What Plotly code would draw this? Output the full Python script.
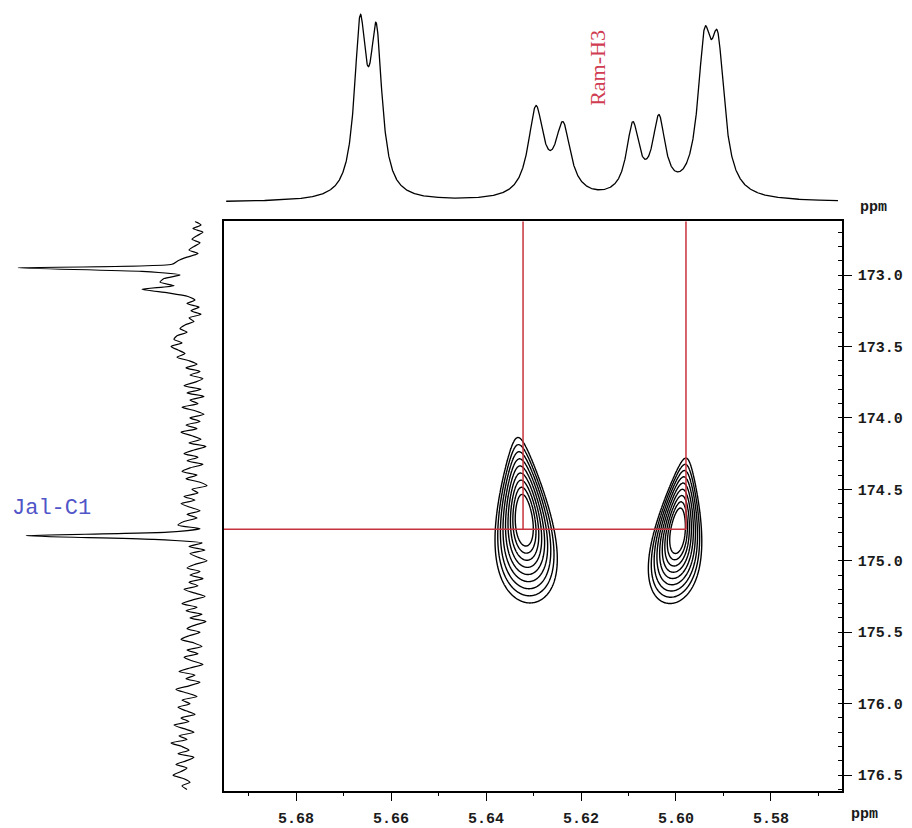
import numpy as np
import plotly.graph_objects as go

W, H = 912, 828

# ---- 1H projection: resolved lines (ppm), apparent heights, half-widths (ppm)
h_ppm = [5.6665, 5.6631, 5.6295, 5.6238, 5.6091, 5.6036, 5.5940, 5.5912]
h_height = [188, 180, 97, 81, 81, 88, 175, 171]
h_hwhm = [0.00147, 0.00147, 0.00195, 0.00195, 0.00162, 0.00162, 0.00172, 0.00172]

# ---- 13C projection: intensity sampled every 0.025 ppm starting at 172.625 ppm
c13_start = 172.625
c13_step = 0.025
c13_int = [
    -3, -9, -1, -11, -5, 0, -8, -2, 3, -6, 5, 14,
    20, 174, 50, 12, 28, 32, 18, 50, 24, 4,
    -3, 5, -7, 1, -9, 3, -2, 7, 12, 5, 15,
    18, 10, 21, 14, 7, 15, 3, -5, 6, -8, 2, -11, -3,
    8, -9, 5, -12, 2, -6, 10, -3, -12, 2,
    -8, 6, -5, 11, 0, -9, 3, -14, -2, 8,
    -6, 5, -11, 2, 10, -5, 6, -8, -15, 0,
    -6, 8, -3, 11, 2, -8, 5, -5, 8, 14,
    -8, 24,
    166, 40, -10, 3, -13, 2, -6, -15, -3, 5, -8, 2,
    -11, 3, -6, 8, -2, -13, 0, 10, -5, 6,
    -10, 2, -14, -3, 5, -8, 3, 11, -2, -10,
    5, -6, 8, 0, -11, 2, 13, -3, 6, -8,
    3, 16, 5, -5, 10, 2, 14, 6, -3, 11,
    3, 18, 8, -2, 13, 5, 21, 10, 3, 14,
    -2, 6, 16, 5, 11, 19, 8, 2, 10, 5,
]

# ---- HMBC cross peaks (1H ppm, 13C ppm, half extents, skew, intensity)
xp_h = [5.6320, 5.5996]
xp_c = [174.716, 174.79]
xp_h_half = [0.00589, 0.00497]
xp_c_half = [0.579, 0.509]
xp_tilt = [-0.00126, 0.00168]
xp_amp = [100, 100]

# ---- correlation markers
corr_h = [5.6322, 5.5979]
corr_c = 174.78

x_range = [5.69516, 5.56505]
y_range = [176.612, 172.6234]

# ---------------- 1H trace
hx = np.linspace(5.6947, 5.5659, 2500)
P = np.array(h_ppm)
Wd = np.array(h_hwhm)
M = 1.0 / (1.0 + ((P[:, None] - P[None, :]) / Wd[None, :]) ** 2)
amps = np.linalg.solve(M, np.array(h_height, dtype=float))
hy = (amps[None, :] / (1.0 + ((hx[:, None] - P[None, :]) / Wd[None, :]) ** 2)).sum(axis=1)

# ---------------- 13C trace
c13_int = np.array(c13_int, dtype=float)
c13_ppm = c13_start + c13_step * np.arange(len(c13_int))

# ---------------- 2D map
gx = np.linspace(5.652, 5.580, 420)
gy = np.linspace(173.8, 175.6, 420)
GX, GY = np.meshgrid(gx, gy)


def cross_peak(x0, y0, hxh, hyh, tilt, amp):
    s = (GY - y0) / hyh
    w = np.clip(1 + 0.5 * s, 0.15, None)
    t = (GX - (x0 + tilt * s)) / (hxh * w)
    r = np.sqrt(s ** 2 + t ** 2)
    return amp * np.clip(1 - r / 1.25, 0, None)


Z = np.zeros_like(GX)
for i in range(len(xp_h)):
    Z = np.maximum(Z, cross_peak(xp_h[i], xp_c[i], xp_h_half[i], xp_c_half[i], xp_tilt[i], xp_amp[i]))

fig = go.Figure()

fig.add_trace(go.Contour(
    x=gx, y=gy, z=Z,
    contours=dict(coloring="lines", start=20, end=75, size=6.875),
    colorscale=[[0, "black"], [1, "black"]],
    line=dict(width=1.4, smoothing=0.8),
    showscale=False, hoverinfo="skip",
    xaxis="x", yaxis="y",
))

red = "#c8323c"
for h in corr_h:
    fig.add_trace(go.Scatter(x=[h, h], y=[y_range[1], corr_c], mode="lines",
                             line=dict(color=red, width=1.5), xaxis="x", yaxis="y",
                             hoverinfo="skip", showlegend=False, cliponaxis=False))
fig.add_trace(go.Scatter(x=[x_range[0], corr_h[1]], y=[corr_c, corr_c], mode="lines",
                         line=dict(color=red, width=1.5), xaxis="x", yaxis="y",
                         hoverinfo="skip", showlegend=False, cliponaxis=False))

# top projection
fig.add_trace(go.Scatter(x=hx, y=hy, mode="lines", line=dict(color="black", width=1.3),
                         xaxis="x2", yaxis="y2", hoverinfo="skip", showlegend=False))

# left projection
fig.add_trace(go.Scatter(x=c13_int, y=c13_ppm, mode="lines",
                         line=dict(color="black", width=1.2, shape="spline", smoothing=0.6),
                         xaxis="x3", yaxis="y3", hoverinfo="skip", showlegend=False))

px = lambda v: v / W
py = lambda v: (H - v) / H

tickfont = dict(family="Liberation Mono, Courier New, monospace", size=15, color="#1a1a1a", weight="bold")

fig.update_layout(
    width=W, height=H,
    margin=dict(l=0, r=0, t=0, b=0),
    paper_bgcolor="white", plot_bgcolor="white",
    showlegend=False,
    xaxis=dict(
        domain=[px(224), px(842)], range=x_range, anchor="y",
        showgrid=False, zeroline=False,
        showline=True, mirror=True, linecolor="black", linewidth=1.5,
        ticks="outside", ticklen=8, tickwidth=1.2, tickcolor="black",
        tick0=5.58, dtick=0.02, tickformat=".2f", tickfont=tickfont,
        minor=dict(dtick=0.01, ticks="outside", ticklen=3, tickcolor="black"),
        ticklabelstandoff=4,
    ),
    yaxis=dict(
        domain=[py(794), py(222)], range=y_range, anchor="x", side="right",
        showgrid=False, zeroline=False,
        showline=True, mirror=True, linecolor="black", linewidth=1.5,
        ticks="outside", ticklen=8, tickwidth=1.2, tickcolor="black",
        tick0=173.0, dtick=0.5, tickformat=".1f", tickfont=tickfont,
        minor=dict(dtick=0.1, ticks="inside", ticklen=4, tickcolor="black"),
        ticklabelstandoff=3,
    ),
    xaxis2=dict(domain=[px(224), px(842)], range=x_range, anchor="y2", visible=False),
    yaxis2=dict(domain=[py(216), 1.0], range=[-13, 203], anchor="x2", visible=False),
    xaxis3=dict(domain=[0.0, px(216)], range=[192, -24], anchor="y3", visible=False),
    yaxis3=dict(domain=[py(794), py(222)], range=y_range, anchor="x3", visible=False),
    annotations=[
        dict(text="Ram-H3", x=5.6164, xref="x", y=py(68), yref="paper", textangle=-90,
             showarrow=False, font=dict(family="Liberation Serif, Times New Roman, serif", size=22, color="#d03c52"),
             xanchor="center", yanchor="middle"),
        dict(text="Jal-C1", x=px(10), y=py(510), xref="paper", yref="paper", xanchor="left", yanchor="middle",
             showarrow=False, font=dict(family="Liberation Mono, Courier New, monospace", size=22, color="#5055c8")),
        dict(text="ppm", x=px(849), y=py(817), xref="paper", yref="paper", xanchor="left", yanchor="middle",
             showarrow=False, font=tickfont),
        dict(text="ppm", x=px(858), y=py(208), xref="paper", yref="paper", xanchor="left", yanchor="middle",
             showarrow=False, font=tickfont),
    ],
)

fig.write_html("out.html")
